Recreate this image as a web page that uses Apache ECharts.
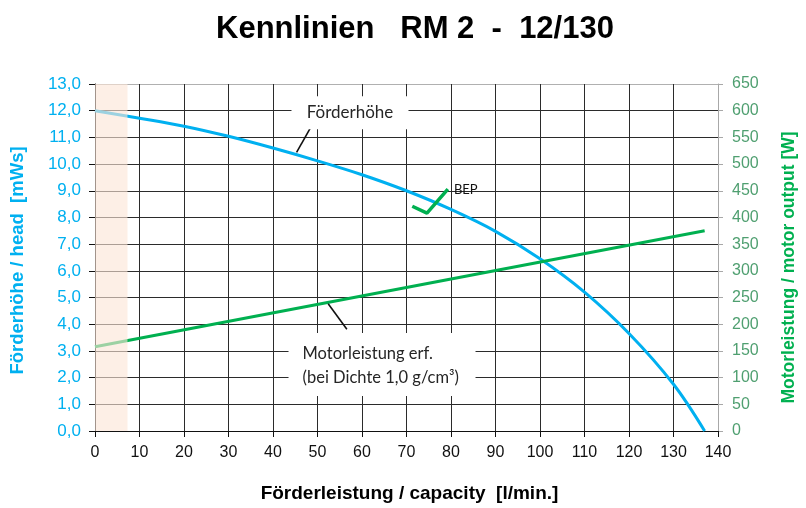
<!DOCTYPE html>
<html>
<head>
<meta charset="utf-8">
<script src="https://cdn.jsdelivr.net/npm/echarts@6/dist/echarts.min.js"></script>
<style>html,body{margin:0;padding:0;background:#fff}#c{width:806px;height:508px}</style>
</head>
<body>
<div id="c"></div>
<script>
// Förderhöhe (head) [mWs] vs flow [l/min]
var headData = [[0,12.0],[10,11.72],[20,11.42],[30,11.04],[40,10.6],[50,10.12],[60,9.6],[70,9.0],[80,8.3],[90,7.48],[100,6.45],[110,5.2],[120,3.65],[130,1.75],[137,0]];
// Motorleistung (power) [W] vs flow
var powerData = [[0,158],[137,375]];
// BEP check mark (in head axis units)
var bepData = [[71.3,8.42],[74.6,8.16],[79.3,9.06]];
// shaded start-up region
var shadeRange = [0, 7.3];
// annotation anchors
var headLabelAt = [57.3, 11.92];
var headLeader = [[48.6, 11.41],[45.3, 10.44]];
var powerLabelAt = [64.5, 2.49];
var powerLeader = [[52.4, 4.77],[56.6, 3.81]];

var FONT = 'Liberation Sans, Arial, sans-serif';
var CAL = 'Lato, Open Sans, sans-serif';
var BLUE = '#00B0F0', GREEN = '#00B050';

function colors(n, last){ var a=[]; for(var i=0;i<n;i++) a.push(i===n-1?last:'#2b2b2b'); return a; }

var chart = echarts.init(document.getElementById('c'));
chart.setOption({
  animation:false,
  title:{text:'Kennlinien   RM 2  -  12/130', left:211, top:9,
    textStyle:{fontFamily:FONT, fontSize:31, fontWeight:'bold', color:'#000'}},
  grid:{left:95, right:82, top:84, bottom:75, containLabel:false},
  xAxis:{type:'value', min:0, max:140, interval:10,
    name:'Förderleistung / capacity  [l/min.]', nameLocation:'middle', nameGap:53,
    nameTextStyle:{fontFamily:FONT, fontSize:19, fontWeight:'bold', color:'#000', padding:[0,0,0,6]},
    axisLine:{show:true, lineStyle:{color:'#111', width:1}},
    axisTick:{show:true, length:6, lineStyle:{color:'#111'}},
    axisLabel:{fontFamily:FONT, fontSize:16, color:'#111', margin:14},
    splitLine:{show:true, lineStyle:{color:colors(15,'#b0b0b0'), width:1}}
  },
  yAxis:[{type:'value', min:0, max:13, interval:1, position:'left',
    name:'Förderhöhe / head  [mWs]', nameLocation:'middle', nameGap:68,
    nameTextStyle:{fontFamily:FONT, fontSize:18.5, fontWeight:'bold', color:BLUE, padding:[0,6,0,0]},
    axisLine:{show:true, lineStyle:{color:'#111'}},
    axisTick:{show:true, length:6, lineStyle:{color:'#111'}},
    axisLabel:{fontFamily:FONT, fontSize:17, color:BLUE, margin:14,
      formatter:function(v){return v.toFixed(1).replace('.',',');}},
    splitLine:{show:true, lineStyle:{color:colors(14,'#b0b0b0'), width:1}}
  },{type:'value', min:0, max:650, interval:50, position:'right',
    name:'Motorleistung / motor output [W]', nameLocation:'middle', nameGap:62,
    nameTextStyle:{fontFamily:FONT, fontSize:17.5, fontWeight:'bold', color:GREEN, padding:[0,20,0,0]},
    axisLine:{show:true, lineStyle:{color:'#a8a8a8'}},
    axisTick:{show:true, length:5, lineStyle:{color:'#a8a8a8'}},
    axisLabel:{fontFamily:FONT, fontSize:16, color:'#4f9f70', margin:14},
    splitLine:{show:false}
  }],
  series:[
    {name:'head', type:'line', data:headData, yAxisIndex:0, smooth:0.35, symbol:'none', z:3,
      lineStyle:{color:BLUE, width:3},
      markLine:{silent:true, symbol:'none', label:{show:false},
        lineStyle:{color:'#111', width:1.6, type:'solid'},
        data:[[{coord:headLeader[0]},{coord:headLeader[1]}],[{coord:powerLeader[0]},{coord:powerLeader[1]}]]},
      markPoint:{silent:true, data:[
        {coord:headLabelAt, symbol:'rect', symbolSize:[117,33], itemStyle:{color:'#fff'},
         label:{show:true, position:'inside', formatter:'Förderhöhe', fontFamily:CAL, fontSize:17, color:'#262626'}},
        {coord:powerLabelAt, symbol:'rect', symbolSize:[187,63], itemStyle:{color:'#fff'},
         label:{show:true, position:[14,9], align:'left', verticalAlign:'top', lineHeight:24,
           formatter:'Motorleistung erf.\n(bei Dichte 1,0 g/cm³)', fontFamily:CAL, fontSize:16.5, color:'#262626'}}
      ]}
    },
    {name:'power', type:'line', data:powerData, yAxisIndex:1, symbol:'none', z:3,
      lineStyle:{color:GREEN, width:3}},
    {name:'BEP', type:'line', data:bepData, yAxisIndex:0, symbol:'none', z:4,
      lineStyle:{color:GREEN, width:3.5},
      endLabel:{show:true, formatter:'BEP', fontFamily:CAL, fontSize:13, color:'#111', distance:6, offset:[0,1]}},
    {name:'shade', type:'line', data:[], yAxisIndex:0, z:10, symbol:'none',
      markArea:{silent:true, z:10, itemStyle:{color:'rgba(251,229,214,0.62)'},
        data:[[{xAxis:shadeRange[0], yAxis:0},{xAxis:shadeRange[1], yAxis:13}]]}}
  ]
});
</script>
</body>
</html>
